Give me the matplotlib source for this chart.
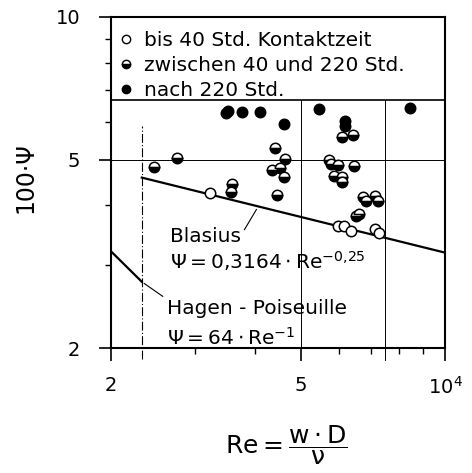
import numpy as np
import matplotlib.pyplot as plt
from matplotlib.lines import Line2D

plt.rcParams['font.family'] = 'DejaVu Sans'
plt.rcParams['mathtext.default'] = 'regular'

# Messpunkte: Re und 100*Psi
re_bis40 = [3220, 5970, 6140, 6360, 7130, 7270]
psi_bis40 = [4.25, 3.62, 3.62, 3.53, 3.57, 3.50]

re_40_220 = [2460, 2750, 3580, 3570, 4410, 4620, 4350, 4510, 4600, 4450,
             5720, 5770, 5970, 6450, 5850, 6090, 6090, 6090, 6420,
             6730, 6830, 7130, 7240, 6510, 6600]
psi_40_220 = [4.82, 5.04, 4.44, 4.27, 5.29, 5.01, 4.75, 4.80, 4.59, 4.21,
              4.99, 4.89, 4.87, 4.85, 4.62, 4.59, 4.48, 5.58, 5.63,
              4.17, 4.09, 4.19, 4.09, 3.80, 3.84]

re_nach220 = [3480, 3510, 3760, 4100, 4600, 5450, 6170, 6170, 8450]
psi_nach220 = [6.27, 6.33, 6.30, 6.30, 5.94, 6.39, 6.03, 5.90, 6.42]

# Kurven (Endpunkte aus dem Bild)
re_blasius = [2320, 10000]
psi_blasius = [4.58, 3.18]
re_hagen = [2000, 2320]
psi_hagen = [3.20, 2.76]

legend_labels = ['bis 40 Std. Kontaktzeit',
                 'zwischen 40 und 220 Std.',
                 'nach 220 Std.']

fig = plt.figure(figsize=(4.72, 4.73), dpi=100)
ax = fig.add_axes([111/472, 1 - 348/473, 334/472, 331/473])
ax.set_xscale('log')
ax.set_yscale('log')
ax.set_xlim(2000, 10000)
ax.set_ylim(2, 10)

# Hilfslinien
ax.axhline(5, color='black', lw=0.7)
ax.axhline(6.68, color='black', lw=1.2)
ax.plot([5000, 5000], [2, 6.68], color='black', lw=0.7)
ax.plot([7500, 7500], [1.89, 6.68], color='black', lw=0.7, clip_on=False)
ax.plot([2320, 2320], [1.9, 5.9], color='black', lw=0.8,
        linestyle=(0, (8, 2, 1, 2)), clip_on=False)

ax.plot(re_blasius, psi_blasius, color='black', lw=1.6)
ax.plot(re_hagen, psi_hagen, color='black', lw=1.6)

ms = 7.5
ax.plot(re_bis40, psi_bis40, 'o', ls='none', ms=ms, mfc='white', mec='black', mew=1.1)
ax.plot(re_40_220, psi_40_220, 'o', ls='none', ms=ms, fillstyle='bottom',
        mfc='black', mfcalt='white', mec='black', mew=1.1)
ax.plot(re_nach220, psi_nach220, 'o', ls='none', ms=ms, mfc='black', mec='black', mew=1.1)

# Beschriftungen
ax.text(0.177, 0.338, 'Blasius', transform=ax.transAxes, fontsize=14.5, va='center')
ax.text(0.177, 0.263, r'$\Psi = 0{,}3164 \cdot Re^{-0{,}25}$', transform=ax.transAxes,
        fontsize=14.5, va='center')
ax.annotate('', xy=(4060, 3.97), xytext=(0.395, 0.35), textcoords='axes fraction',
            arrowprops=dict(arrowstyle='-', lw=0.8, color='black'))

ax.text(0.168, 0.118, 'Hagen - Poiseuille', transform=ax.transAxes, fontsize=14.5, va='center')
ax.text(0.168, 0.030, r'$\Psi = 64 \cdot Re^{-1}$', transform=ax.transAxes,
        fontsize=14.5, va='center')
ax.annotate('', xy=(2320, 2.76), xytext=(0.162, 0.151), textcoords='axes fraction',
            arrowprops=dict(arrowstyle='-', lw=0.8, color='black'))

# Legende
handles = [
    Line2D([], [], marker='o', ls='none', ms=6, mfc='white', mec='black', mew=1.0),
    Line2D([], [], marker='o', ls='none', ms=6, fillstyle='bottom', mfc='black',
           mfcalt='white', mec='black', mew=1.0),
    Line2D([], [], marker='o', ls='none', ms=6, mfc='black', mec='black'),
]
ax.legend(handles, legend_labels, loc='upper left', bbox_to_anchor=(0, 0.978),
          frameon=False, fontsize=14.5, handlelength=0.8, handletextpad=0.5,
          labelspacing=0.28, borderpad=0.25, borderaxespad=0.1)

# Achsen
for s in ax.spines.values():
    s.set_linewidth(1.5)
ax.set_xticks([2000, 5000, 10000])
ax.set_xticklabels(['2', '5', '$10^4$'])
ax.set_xticks([3000, 4000, 6000, 7000, 8000, 9000], minor=True)
ax.set_xticklabels([], minor=True)
ax.set_yticks([2, 5, 10])
ax.set_yticklabels(['2', '5', '10'])
ax.set_yticks([3, 4, 6, 7, 8, 9], minor=True)
ax.set_yticklabels([], minor=True)
ax.tick_params(which='major', direction='out', length=9, width=1.2, labelsize=14)
ax.tick_params(which='minor', direction='out', length=4, width=1.0)
ax.tick_params(axis='x', which='major', pad=11)
ax.tick_params(axis='y', which='major', pad=13)

fig.text(25/472, 1 - 178/473, '100·Ψ', rotation=90, fontsize=17,
         ha='center', va='center')
fig.text(286/472, 1 - 445/473, r'$Re = \dfrac{w \cdot D}{\nu}$', fontsize=18,
         ha='center', va='center')

fig.savefig('out.png', dpi=100)
